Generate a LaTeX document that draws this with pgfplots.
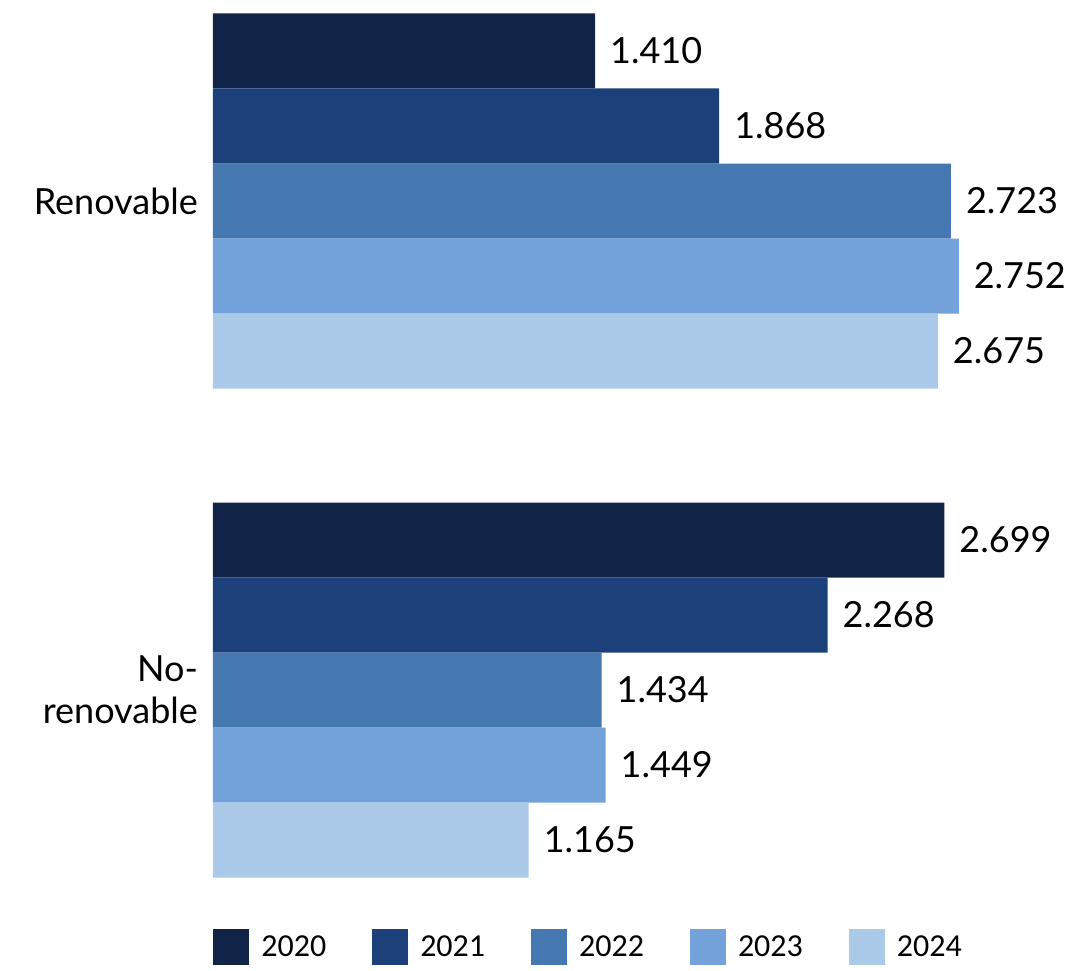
\documentclass[border=0pt]{standalone}
\usepackage{pgfplots}
\pgfplotsset{compat=1.18}
\usepackage{fontspec}
\setmainfont{Lato}
\newfontfamily\legfont{Carlito}

\definecolor{c2020}{HTML}{112448}
\definecolor{c2021}{HTML}{1C407A}
\definecolor{c2022}{HTML}{4577B0}
\definecolor{c2023}{HTML}{72A2D9}
\definecolor{c2024}{HTML}{ABCAEA}

\begin{document}
\begin{tikzpicture}
    \useasboundingbox (-106.5pt,-45pt) rectangle (426.5pt,440pt);
    \begin{axis}[
        scale only axis,
        width=406.5pt, height=433pt,
        xbar,
        bar width=37.5pt,
        xmin=0, xmax=3.0,
        ymin=-0.3885, ymax=1.3824,
        ytick={0,1},
        yticklabels={{No-\\renovable},Renovable},
        yticklabel style={align=right, font=\fontsize{18}{21}\selectfont, xshift=-4pt},
        xtick=\empty,
        major tick length=0pt,
        axis line style={draw=none},
        clip=false,
        point meta=explicit symbolic,
        nodes near coords,
        every node near coord/.append style={font=\fontsize{18}{21}\selectfont, anchor=west, xshift=4pt},
        legend columns=-1,
        legend style={at={(0,0)}, anchor=north west, yshift=-24.5pt, draw=none, inner sep=0pt,
            font=\legfont\fontsize{16}{18}\selectfont,
            /tikz/every odd column/.append style={column sep=4pt},
            /tikz/every even column/.append style={column sep=21pt}},
        legend image code/.code={\fill[#1,draw=none] (0pt,-9pt) rectangle (18pt,9pt);},
    ]
        \addplot[fill=c2020, draw=none, bar shift=75pt] coordinates {(1.410,1) [1.410] (2.699,0) [2.699]};
        \addplot[fill=c2021, draw=none, bar shift=37.5pt] coordinates {(1.868,1) [1.868] (2.268,0) [2.268]};
        \addplot[fill=c2022, draw=none, bar shift=0pt] coordinates {(2.723,1) [2.723] (1.434,0) [1.434]};
        \addplot[fill=c2023, draw=none, bar shift=-37.5pt] coordinates {(2.752,1) [2.752] (1.449,0) [1.449]};
        \addplot[fill=c2024, draw=none, bar shift=-75pt] coordinates {(2.675,1) [2.675] (1.165,0) [1.165]};
        \legend{2020,2021,2022,2023,2024}
    \end{axis}
\end{tikzpicture}
\end{document}
